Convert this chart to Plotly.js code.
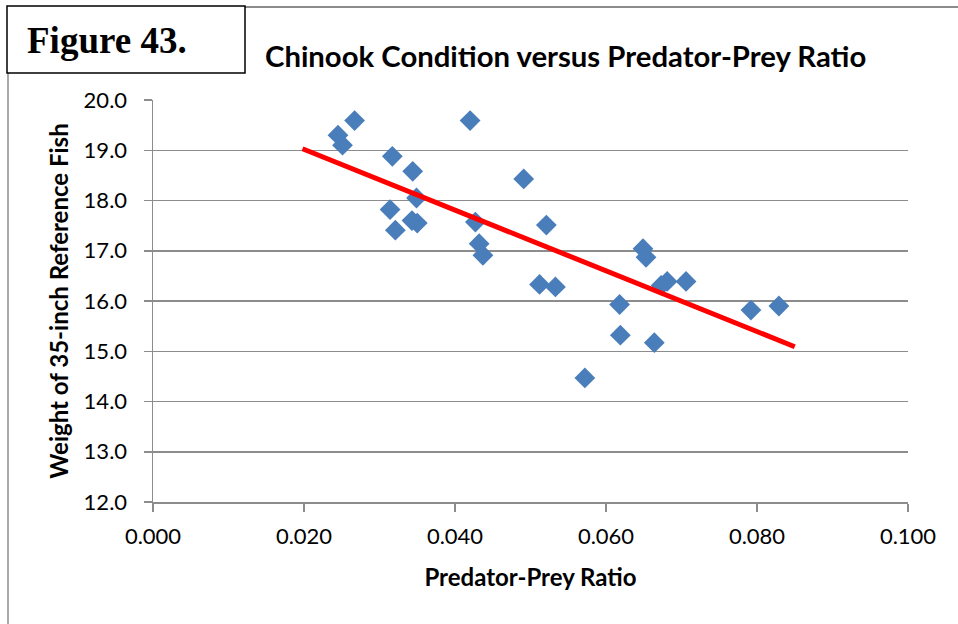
<!DOCTYPE html>
<html>
<head>
<meta charset="utf-8">
<script src="https://cdn.plot.ly/plotly-3.0.1.min.js"></script>
<style>
html,body{margin:0;padding:0;background:#fff;}
#chart{width:958px;height:624px;}
</style>
</head>
<body>
<div id="chart"></div>
<script>
// Observations (predator-prey ratio, weight of 35-inch reference fish)
const ratio = [0.0245,0.0251,0.0267,0.0317,0.0344,0.0420,0.0491,0.0349,0.0314,0.0321,0.0343,0.0350,0.0427,0.0432,0.0437,0.0512,0.0521,0.0533,0.0572,0.0618,0.0619,0.0664,0.0649,0.0653,0.0673,0.0681,0.0706,0.0792,0.0829];
const weight = [19.30,19.10,19.59,18.88,18.58,19.59,18.43,18.05,17.82,17.41,17.60,17.55,17.57,17.14,16.91,16.33,17.51,16.28,14.47,15.93,15.32,15.17,17.04,16.87,16.31,16.39,16.39,15.82,15.90];
// Linear trend line end points
const trendX = [0.0198, 0.0850];
const trendY = [19.03, 15.09];
const xTickVals = [0, 0.02, 0.04, 0.06, 0.08, 0.1];
const xTickText = ['0.000','0.020','0.040','0.060','0.080','0.100'];
const yTickVals = [12,13,14,15,16,17,18,19,20];
const yTickText = ['12.0','13.0','14.0','15.0','16.0','17.0','18.0','19.0','20.0'];

const W = 958, H = 624;
const M = {l:153, r:50, t:100, b:122};
const pw = W - M.l - M.r, ph = H - M.t - M.b;
const px = x => (x - M.l) / pw;
const py = y => (H - M.b - y) / ph;

const traces = [
  {x: ratio, y: weight, type:'scatter', mode:'markers',
   marker:{symbol:'diamond', size:16, color:'#4A7EBB', line:{width:0}}},
  {x: trendX, y: trendY, type:'scatter', mode:'lines',
   line:{color:'#FF0000', width:5}}
];

const frameGray = '#8C8C8C';
const layout = {
  width:W, height:H, margin:M, showlegend:false,
  paper_bgcolor:'#fff', plot_bgcolor:'#fff',
  font:{family:'Lato, sans-serif', color:'#000'},
  xaxis:{range:[0,0.1], tickvals:xTickVals, ticktext:xTickText,
    showgrid:false, zeroline:false, showline:true, linecolor:frameGray, linewidth:1.5,
    ticks:'outside', ticklen:8, tickcolor:frameGray, tickwidth:1.5,
    tickfont:{family:'Lato, sans-serif', size:22, color:'#000'}, ticklabelstandoff:6,
    title:{text:'Predator-Prey Ratio', font:{family:'Lato, sans-serif', size:24, color:'#000', weight:'bold'}, standoff:21}},
  yaxis:{range:[12,20], tickvals:yTickVals, ticktext:yTickText,
    showgrid:true, gridcolor:frameGray, gridwidth:1.5, zeroline:false,
    showline:true, linecolor:frameGray, linewidth:1.5,
    ticks:'outside', ticklen:8, tickcolor:frameGray, tickwidth:1.5,
    tickfont:{family:'Lato, sans-serif', size:22, color:'#000'}, ticklabelstandoff:12,
    title:{text:'Weight of 35-inch Reference Fish', font:{family:'Lato, sans-serif', size:24, color:'#000', weight:'bold'}, standoff:8}},
  shapes:[
    {type:'line', xref:'paper', yref:'paper', x0:px(8), x1:px(8), y0:py(73), y1:py(640), line:{color:frameGray, width:1.5}},
    {type:'line', xref:'paper', yref:'paper', x0:px(245), x1:px(960), y0:py(7), y1:py(7), line:{color:frameGray, width:2}},
    {type:'rect', xref:'paper', yref:'paper', x0:px(7), x1:px(245), y0:py(6), y1:py(73), line:{color:'#000', width:1.5}, fillcolor:'rgba(0,0,0,0)'}
  ],
  annotations:[
    {xref:'paper', yref:'paper', x:px(107), y:py(40), text:'<b>Figure 43.</b>', showarrow:false,
     xanchor:'center', yanchor:'middle', font:{family:'Liberation Serif, serif', size:37, color:'#000'}},
    {xref:'paper', yref:'paper', x:px(565), y:py(55), text:'<b>Chinook Condition versus Predator-Prey Ratio</b>', showarrow:false,
     xanchor:'center', yanchor:'middle', font:{family:'Lato, sans-serif', size:29.3, color:'#000'}}
  ]
};

Plotly.newPlot('chart', traces, layout, {displayModeBar:false, staticPlot:true});
</script>
</body>
</html>
